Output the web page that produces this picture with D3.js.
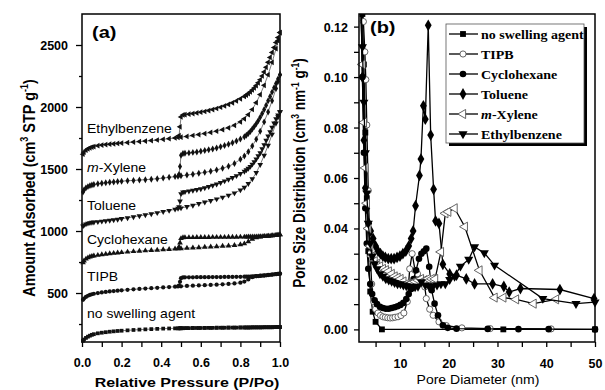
<!DOCTYPE html>
<html>
<head>
<meta charset="utf-8">
<script src="https://cdn.jsdelivr.net/npm/d3@7"></script>
<style>
  body { margin: 0; background: #fff; }
  svg { display: block; font-family: "Liberation Sans", Arial, sans-serif; }
</style>
</head>
<body>
<svg id="chart" width="605" height="390"></svg>
<script>
// ---------- (a) N2 isotherms: shared pressure points ----------
const pAds = [0.005,0.01,0.02,0.03,0.04,0.05,0.06,0.08,0.10,0.12,0.14,0.16,0.18,0.20,
  0.23,0.26,0.29,0.32,0.35,0.38,0.41,0.44,0.47,0.50,0.53,0.56,0.59,0.62,0.65,0.68,0.71,0.74,0.77,0.80,
  0.82,0.84,0.86,0.88,0.90,0.92,0.94,0.96,0.98,0.99,1.0];
const pDes = [1.0,0.99,0.98,0.97,0.96,0.95,0.94,0.93,0.92,0.91,0.90,0.89,0.88,0.87,0.86,0.85,0.84,0.83,0.82,
  0.80,0.78,0.76,0.74,0.72,0.70,0.68,0.66,0.64,0.62,0.60,0.58,0.56,0.54,0.52,
  0.51,0.50,0.495,0.49,0.485];

const adsNone = [115,125,138,148,156,163,168, 175,180,184,188,191,194,196,
  199,202,205,207,209,211,213,214,215,216,217,218,218,219,219,220,220,221,221,222,
  222,222,223,223,223,224,224,224,225, 225,225];
const desNone = [225,225,225,225,224,224,224,224,224,223,223,223,223,223,223,222,222,222,222,
  222,221,221,221,220,220,220,219,219,219,218,218,218,217,217, 216,216,216,215,215];

const adsTIPB = [445,455,468,478,485,490,494, 500,505,509,513,516,519,522,
  526,530,533,536,539,542,545,548,551,554,557,559,561,563,565,567,570,573,577,583,
  592,610,628,636,640,643,646,649,652, 654,656];
const desTIPB = [656,655,653,651,649,647,645,643,641,640,638,637,636,635,634,633,633,632,632,
  631,631,630,630,630,629,629,629,628,628,628,628,627,627,627, 626,620,590,560,553];

const adsCyclo = [745,760,775,785,792,797,800, 805,810,814,818,821,824,827,
  831,835,838,841,844,847,850,853,856,859,862,865,867,870,872,875,878,881,885,890,
  898,915,935,946,952,956,960,963,966, 968,970];
const desCyclo = [970,968,966,964,962,960,959,958,957,956,955,955,954,954,953,953,953,952,952,
  952,951,951,951,950,950,950,950,949,949,949,949,948,948,948, 947,940,905,870,858];

const adsToluene = [1040,1048,1056,1062,1066,1069,1071, 1074,1078,1082,1086,1090,1094,1099,
  1106,1114,1122,1130,1138,1147,1156,1165,1175,1185,1196,1207,1220,1232,1245,1258,1272,1288,1306,1330,
  1352,1382,1420,1470,1535,1610,1690,1780,1870, 1920,1960];
const desToluene = [1960,1935,1905,1870,1835,1800,1765,1730,1695,1662,1630,1605,1580,1558,1538,1520,1505,1492,1480,
  1462,1445,1430,1416,1403,1390,1378,1367,1357,1348,1340,1333,1327,1321,1316, 1313,1300,1240,1195,1182];

const adsXylene = [1315,1330,1348,1358,1366,1371,1375, 1381,1386,1390,1393,1396,1399,1402,
  1405,1408,1411,1414,1418,1422,1427,1433,1439,1445,1451,1458,1465,1473,1482,1493,1506,1522,1545,1578,
  1605,1640,1685,1740,1805,1880,1960,2050,2150, 2205,2260];
const desXylene = [2260,2225,2190,2155,2120,2085,2050,2015,1980,1948,1918,1890,1865,1842,1822,1803,1787,1773,1761,
  1742,1726,1712,1700,1689,1679,1670,1662,1655,1649,1643,1638,1634,1630,1627, 1625,1610,1520,1455,1442];

const adsEthyl = [1620,1635,1652,1663,1671,1677,1681, 1688,1693,1697,1700,1703,1706,1709,
  1713,1717,1721,1725,1729,1734,1739,1745,1751,1757,1763,1770,1778,1786,1795,1805,1817,1832,1852,1880,
  1905,1938,1980,2035,2100,2175,2260,2360,2470, 2535,2600];
const desEthyl = [2600,2560,2520,2480,2440,2400,2360,2320,2283,2250,2220,2195,2173,2154,2137,2122,2108,2096,2085,
  2066,2049,2034,2021,2009,1998,1988,1979,1971,1964,1958,1952,1947,1942,1938, 1936,1920,1840,1770,1755];

const isoLabels = ["no swelling agent", "TIPB", "Cyclohexane", "Toluene", "m-Xylene", "Ethylbenzene"];
const isoLabelValue = [298, 597, 895, 1169, 1476, 1790];   // label baseline, in cm3/g

const xTicksA = [0, 0.1, 0.2, 0.3, 0.4, 0.5, 0.6, 0.7, 0.8, 0.9, 1.0];
const yTicksA = [500, 1000, 1500, 2000, 2500];
const yMinorA = [250, 750, 1250, 1750, 2250];

// ---------- (b) pore size distributions ----------
const psdNames = ["no swelling agent", "TIPB", "Cyclohexane", "Toluene", "m-Xylene", "Ethylbenzene"];

const psdNoneD = [2.0,2.3,2.6,2.9,3.2,3.5,3.9,4.4,5.0,6.3,31.2,50];
const psdNoneV = [0.13,0.125,0.105,0.078,0.052,0.031,0.015,0.007,0.003,0.0,0.0,0.0];

const psdTipbD = [2.2,2.5,2.8,3.0,3.2,3.5,3.9,4.2,4.6,5.0,5.5,6.0,6.5,7.0,7.5,8.0,8.5,9.0,9.6,10.2,10.8,
  11.5,12.0,12.5,13.1,13.6,14.3,15.1,15.4,16.1,16.8,18.0,19.5,22.7,28.5,41.0];
const psdTipbV = [0.13,0.122,0.11,0.099,0.081,0.055,0.030,0.018,0.011,0.008,0.0065,0.0055,0.005,0.0048,0.0046,
  0.0045,0.0046,0.0048,0.005,0.0055,0.0065,0.011,0.024,0.030,0.0234,0.022,0.020,0.0168,0.0122,0.008,0.0056,
  0.003,0.0015,0.0006,0.0003,0.0002];

const psdCycloD = [2.0,2.3,2.6,2.9,3.2,3.5,3.9,4.3,4.8,5.3,5.9,6.5,7.1,7.7,8.3,8.9,9.5,10.1,10.7,11.3,11.8,
  12.3,12.8,13.3,13.9,14.4,14.9,15.4,16.0,16.5,17.1,17.8,18.8,19.8,21.6,28.0,34.3,40.5,50];
const psdCycloV = [0.13,0.1,0.07,0.048,0.034,0.024,0.018,0.014,0.0115,0.010,0.009,0.0085,0.0082,0.0082,0.0085,
  0.0088,0.0092,0.0097,0.0105,0.012,0.014,0.016,0.020,0.0234,0.028,0.030,0.031,0.032,0.0248,0.0155,0.0102,
  0.0056,0.0016,0.0006,0.0003,0.0002,0.0001,0.0001,0];

const psdToluD = [2.0,2.3,2.6,2.9,3.2,3.6,4.0,4.5,5.0,5.5,6.0,6.5,7.0,7.6,8.2,8.8,9.4,10.0,10.6,11.2,
  11.8,12.3,12.7,13.2,14.0,14.3,14.8,15.2,15.8,16.3,16.9,17.3,18.0,18.8,20.2,21.6,23.6,25.3,29.0,31.3,
  32.4,34.7,42.8,49.8];
const psdToluV = [0.13,0.10,0.075,0.056,0.048,0.042,0.039,0.036,0.033,0.031,0.030,0.029,0.0285,0.028,0.028,
  0.028,0.0285,0.029,0.030,0.031,0.033,0.036,0.039,0.049,0.061,0.0675,0.0886,0.0833,0.1205,0.077,
  0.0555,0.043,0.042,0.0258,0.022,0.0215,0.020,0.018,0.018,0.017,0.0148,0.0162,0.0158,0.0122];

const psdXylD = [2.0,2.3,2.6,2.9,3.2,3.5,3.9,4.3,4.8,5.3,5.9,6.5,7.1,7.7,8.3,8.9,9.5,10.1,10.7,11.3,
  11.9,12.5,13.1,13.7,14.3,15.0,15.7,16.5,17.2,18.4,19.3,19.9,21.2,23.3,26.3,29.4,31.2,33.8,37.4,42.0];
const psdXylV = [0.128,0.105,0.082,0.064,0.05,0.04,0.033,0.029,0.027,0.026,0.025,0.024,0.0235,0.023,0.022,
  0.021,0.0205,0.020,0.019,0.018,0.018,0.0185,0.019,0.0195,0.020,0.0195,0.020,0.020,0.020,0.0307,
  0.046,0.0466,0.048,0.0407,0.0234,0.0126,0.0126,0.0119,0.0102,0.0119];

const psdEthD = [2.0,2.3,2.6,2.9,3.2,3.5,3.9,4.3,4.8,5.3,5.9,6.5,7.1,7.7,8.3,8.9,9.5,10.1,10.7,11.3,
  11.9,12.5,13.1,13.7,14.4,15.2,16.0,16.8,17.6,18.4,19.3,20.2,21.2,22.4,24.1,25.3,27.3,29.4,39.3,46.1,50];
const psdEthV = [0.13,0.112,0.09,0.07,0.054,0.042,0.034,0.029,0.026,0.024,0.022,0.021,0.020,0.0195,0.019,
  0.0185,0.018,0.018,0.0175,0.0172,0.017,0.017,0.0168,0.017,0.0188,0.0175,0.017,0.0172,0.0175,0.018,
  0.018,0.0197,0.021,0.025,0.0277,0.0327,0.0303,0.0254,0.0122,0.0102,0.0108];

const xTicksB = [5, 10, 15, 20, 25, 30, 35, 40, 45, 50];
const yTicksB = [0, 0.01, 0.02, 0.03, 0.04, 0.05, 0.06, 0.07, 0.08, 0.09, 0.10, 0.11, 0.12];

// ---------- drawing ----------
const SQ = 0.85;  // the figure is squashed vertically, text too
const svg = d3.select("#chart");

const zip = (xs, ys) => xs.map((x, i) => [x, ys[i]]).filter(d => d[1] != null);

function putText(g, x, y, str, size, opts = {}) {
  const t = g.append("text")
    .attr("transform", `translate(${x},${y}) scale(1,${SQ})` + (opts.rotate ? " rotate(-90)" : ""))
    .attr("font-size", size)
    .attr("font-weight", opts.bold ? "bold" : "normal")
    .attr("text-anchor", opts.anchor || "start")
    .attr("fill", "#000");
  if (opts.family) t.attr("font-family", opts.family);
  if (str) t.text(str);
  return t;
}

function styleAxis(g) {
  g.select(".domain").remove();
  g.selectAll(".tick line").attr("stroke", "#000").attr("stroke-width", 1.3);
  g.selectAll(".tick text").attr("font-size", 12.5).attr("font-weight", "bold")
    .attr("fill", "#000").attr("font-family", "'Liberation Sans', Arial, sans-serif");
}

function symPath(type, size) { return d3.symbol().type(type).size(size)(); }

// ===== panel (a) =====
const xa = d3.scaleLinear().domain([0, 1]).range([82, 280]);
const ya = d3.scaleLinear().domain([105, 2750]).range([342, 14]);
const ga = svg.append("g");

const gxa = ga.append("g").attr("transform", "translate(0,342)")
  .call(d3.axisBottom(xa).tickValues(xTicksA).tickSize(5).tickPadding(20)
    .tickFormat((d, i) => i % 2 === 0 ? d3.format(".1f")(d) : ""));
styleAxis(gxa);
gxa.selectAll(".tick text").attr("dy", "0");

const gya = ga.append("g").attr("transform", "translate(82,0)")
  .call(d3.axisLeft(ya).tickValues(yTicksA).tickSize(6).tickPadding(8).tickFormat(d3.format("d")));
styleAxis(gya);
gya.selectAll(".tick text").attr("dy", "0.36em");
const gyaMinor = ga.append("g").attr("transform", "translate(82,0)")
  .call(d3.axisLeft(ya).tickValues(yMinorA).tickSize(3).tickFormat(""));
styleAxis(gyaMinor);

ga.append("rect").attr("x", 82).attr("y", 14).attr("width", 198).attr("height", 328)
  .attr("fill", "none").attr("stroke", "#000").attr("stroke-width", 1.5);

const isoSeries = [
  { ads: adsNone,    des: desNone,    sym: d3.symbolSquare,   rot: 0 },
  { ads: adsTIPB,    des: desTIPB,    sym: d3.symbolCircle,   rot: 0 },
  { ads: adsCyclo,   des: desCyclo,   sym: d3.symbolTriangle, rot: 0 },
  { ads: adsToluene, des: desToluene, sym: d3.symbolTriangle, rot: 180 },
  { ads: adsXylene,  des: desXylene,  sym: d3.symbolDiamond,  rot: 0 },
  { ads: adsEthyl,   des: desEthyl,   sym: d3.symbolTriangle, rot: -90 },
];
const lineA = d3.line().x(d => xa(d[0])).y(d => ya(d[1]));

isoSeries.forEach(s => {
  const branches = [zip(pAds, s.ads), zip(pDes, s.des)];
  const g = ga.append("g");
  branches.forEach(b => {
    g.append("path").attr("d", lineA(b)).attr("fill", "none")
      .attr("stroke", "#444").attr("stroke-width", 0.7);
  });
  const pts = branches[0].concat(branches[1]);
  g.selectAll("path.m").data(pts).join("path").attr("class", "m")
    .attr("d", symPath(s.sym, 14))
    .attr("transform", d => `translate(${xa(d[0])},${ya(d[1])}) rotate(${s.rot})`)
    .attr("fill", "#111");
});

isoLabels.forEach((lab, i) => {
  const t = putText(ga, 87, ya(isoLabelValue[i]), "", 14);
  if (lab.startsWith("m-")) {
    t.append("tspan").attr("font-style", "italic").text("m");
    t.append("tspan").text(lab.slice(1));
  } else t.text(lab);
});

putText(ga, 92, 38, "(a)", 20, { bold: true });

const yTitleA = putText(ga, 35, 188, "", 17, { bold: true, rotate: true, anchor: "middle" });
yTitleA.append("tspan").text("Amount Adsorbed (cm");
yTitleA.append("tspan").attr("font-size", 10.5).attr("dy", -7).text("3");
yTitleA.append("tspan").attr("dy", 7).text(" STP g");
yTitleA.append("tspan").attr("font-size", 10.5).attr("dy", -7).text("-1");
yTitleA.append("tspan").attr("dy", 7).text(")");

putText(ga, 187, 387, "Relative Pressure (P/Po)", 16, { bold: true, anchor: "middle" });

// ===== panel (b) =====
const xb = d3.scaleLinear().domain([1.6, 50]).range([359, 595]);
const yb = d3.scaleLinear().domain([-0.005, 0.125]).range([342, 14]);
const gb = svg.append("g");

const gxb = gb.append("g").attr("transform", "translate(0,342)")
  .call(d3.axisBottom(xb).tickValues(xTicksB).tickSize(5).tickPadding(21)
    .tickFormat(d => d % 10 === 0 ? d : ""));
styleAxis(gxb);
gxb.selectAll(".tick text").attr("dy", "0");

const gyb = gb.append("g").attr("transform", "translate(359,0)")
  .call(d3.axisLeft(yb).tickValues(yTicksB).tickSize(5).tickPadding(6)
    .tickFormat((d, i) => i % 2 === 0 ? d3.format(".2f")(d) : ""));
styleAxis(gyb);
gyb.selectAll(".tick text").attr("dy", "0.36em");

gb.append("clipPath").attr("id", "clipB").append("rect")
  .attr("x", 352).attr("y", 14).attr("width", 250).attr("height", 334);

const psdSeries = [
  { d: psdNoneD,  v: psdNoneV,  sym: d3.symbolSquare,   size: 34, rot: 0,   fill: "#000" },
  { d: psdTipbD,  v: psdTipbV,  sym: d3.symbolCircle,   size: 30, rot: 0,   fill: "#fff" },
  { d: psdCycloD, v: psdCycloV, sym: d3.symbolCircle,   size: 34, rot: 0,   fill: "#000" },
  { d: psdToluD,  v: psdToluV,  sym: d3.symbolDiamond,  size: 40, rot: 0,   fill: "#000" },
  { d: psdXylD,   v: psdXylV,   sym: d3.symbolTriangle, size: 36, rot: -90, fill: "#fff" },
  { d: psdEthD,   v: psdEthV,   sym: d3.symbolTriangle, size: 36, rot: 180, fill: "#000" },
];
const lineB = d3.line().x(d => xb(d[0])).y(d => yb(d[1]));
const plotB = gb.append("g").attr("clip-path", "url(#clipB)");

psdSeries.forEach(s => {
  const pts = zip(s.d, s.v);
  const g = plotB.append("g");
  g.append("path").attr("d", lineB(pts)).attr("fill", "none")
    .attr("stroke", "#000").attr("stroke-width", 1.3);
  g.selectAll("path.m").data(pts).join("path").attr("class", "m")
    .attr("d", symPath(s.sym, s.size))
    .attr("transform", d => `translate(${xb(d[0])},${yb(d[1])}) rotate(${s.rot})`)
    .attr("fill", s.fill).attr("stroke", s.fill === "#fff" ? "#555" : "none").attr("stroke-width", 0.9);
});

gb.append("rect").attr("x", 359).attr("y", 14).attr("width", 236).attr("height", 328)
  .attr("fill", "none").attr("stroke", "#000").attr("stroke-width", 1.5);

// legend
const legX = 446, legY = 24, legW = 138, legH = 119;
gb.append("rect").attr("x", legX + 3).attr("y", legY + 3).attr("width", legW).attr("height", legH).attr("fill", "#000");
gb.append("rect").attr("x", legX).attr("y", legY).attr("width", legW).attr("height", legH)
  .attr("fill", "#fff").attr("stroke", "#555").attr("stroke-width", 0.8);
psdNames.forEach((name, i) => {
  const s = psdSeries[i];
  const cy = legY + 10 + i * 20;
  gb.append("line").attr("x1", legX + 3).attr("x2", legX + 32).attr("y1", cy).attr("y2", cy)
    .attr("stroke", "#000").attr("stroke-width", 1.3);
  gb.append("path").attr("d", symPath(s.sym, s.size))
    .attr("transform", `translate(${legX + 17},${cy}) rotate(${s.rot})`)
    .attr("fill", s.fill).attr("stroke", s.fill === "#fff" ? "#555" : "none").attr("stroke-width", 0.9);
  const t = putText(gb, legX + 35, cy + 5, "", 14, { bold: true, family: "'Liberation Serif', 'Times New Roman', serif" });
  if (name.startsWith("m-")) {
    t.append("tspan").attr("font-style", "italic").text("m");
    t.append("tspan").text(name.slice(1));
  } else t.text(name);
});

putText(gb, 370, 33, "(b)", 20, { bold: true });

const yTitleB = putText(gb, 305, 173, "", 16, { bold: true, rotate: true, anchor: "middle" });
yTitleB.append("tspan").text("Pore Size Distribution (cm");
yTitleB.append("tspan").attr("font-size", 10).attr("dy", -6.5).text("3");
yTitleB.append("tspan").attr("dy", 6.5).text(" nm");
yTitleB.append("tspan").attr("font-size", 10).attr("dy", -6.5).text("-1");
yTitleB.append("tspan").attr("dy", 6.5).text(" g");
yTitleB.append("tspan").attr("font-size", 10).attr("dy", -6.5).text("-1");
yTitleB.append("tspan").attr("dy", 6.5).text(")");

putText(gb, 478, 384, "Pore Diameter (nm)", 14, { anchor: "middle" });
</script>
</body>
</html>
